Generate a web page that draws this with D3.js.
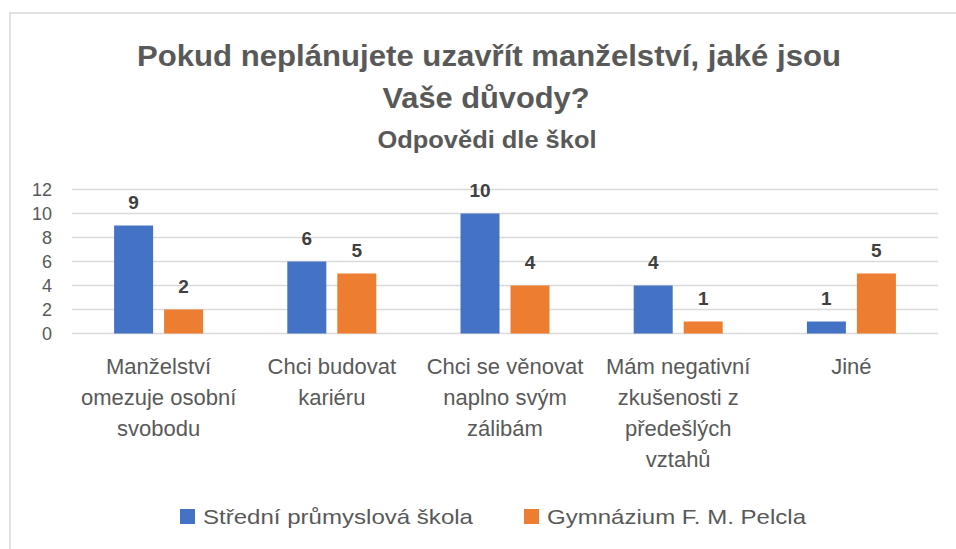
<!DOCTYPE html>
<html>
<head>
<meta charset="utf-8">
<script src="https://cdn.jsdelivr.net/npm/d3@7"></script>
<style>
  body { margin: 0; background: #fff; }
  svg { display: block; }
  text { font-family: "Liberation Sans Narrow", "Liberation Sans", sans-serif; }
</style>
</head>
<body>
<div id="chart"></div>
<script>
// Data
const categories = [
	['Manželství', 'omezuje osobní', 'svobodu'],
	['Chci budovat', 'kariéru'],
	['Chci se věnovat', 'naplno svým', 'zálibám'],
	['Mám negativní', 'zkušenosti z', 'předešlých', 'vztahů'],
	['Jiné'],
];
const seriesNames = ['Střední průmyslová škola', 'Gymnázium F. M. Pelcla'];
const spsValues = [9, 6, 10, 4, 1];
const gymValues = [2, 5, 4, 1, 5];
const yTicks = [0, 2, 4, 6, 8, 10, 12];

const colours = ['#4472C4', '#ED7D31'];
const width = 956;
const height = 549;

const svg = d3.select('#chart')
	.append('svg')
	.attr('width', width)
	.attr('height', height);

// chart border (right and bottom edges are cut off in the reference)
svg.append('rect')
	.attr('x', 10)
	.attr('y', 13)
	.attr('width', 980)
	.attr('height', 560)
	.attr('fill', 'none')
	.attr('stroke', '#d9d9d9')
	.attr('stroke-width', 1.5);

// squeeze text to a measured width
function fit(sel, w) {
	sel.attr('textLength', w).attr('lengthAdjust', 'spacingAndGlyphs');
}

// Titles
svg.append('text')
	.attr('x', 489).attr('y', 66)
	.attr('text-anchor', 'middle')
	.attr('font-size', 30).attr('font-weight', 'bold')
	.attr('fill', '#595959')
	.text('Pokud neplánujete uzavřít manželství, jaké jsou')
	.call(fit, 704);
svg.append('text')
	.attr('x', 486).attr('y', 108)
	.attr('text-anchor', 'middle')
	.attr('font-size', 30).attr('font-weight', 'bold')
	.attr('fill', '#595959')
	.text('Vaše důvody?')
	.call(fit, 207);
svg.append('text')
	.attr('x', 487).attr('y', 148)
	.attr('text-anchor', 'middle')
	.attr('font-size', 24).attr('font-weight', 'bold')
	.attr('fill', '#595959')
	.text('Odpovědi dle škol')
	.call(fit, 219);

// Scales
const plot = { left: 72, right: 938 };
const x = d3.scaleBand()
	.domain(d3.range(categories.length))
	.range([plot.left, plot.right]);
const y = d3.scaleLinear()
	.domain([0, 12])
	.range([333.5, 189.5]);

const barW = 39;
const barGap = 11;

// Gridlines
svg.append('g')
	.selectAll('line')
	.data(yTicks)
	.join('line')
	.attr('x1', plot.left)
	.attr('x2', plot.right)
	.attr('y1', (d) => y(d))
	.attr('y2', (d) => y(d))
	.attr('stroke', '#d9d9d9')
	.attr('stroke-width', 1.5);

// Y axis labels
const yAxis = svg.append('g')
	.attr('transform', `translate(${plot.left - 20},0)`)
	.call(d3.axisLeft(y).tickValues(yTicks).tickSize(0).tickPadding(0));
yAxis.select('.domain').remove();
yAxis.selectAll('text')
	.attr('font-size', 18)
	.attr('fill', '#595959')
	.attr('font-family', '"Liberation Sans Narrow", "Liberation Sans", sans-serif');

// Bars
const series = [spsValues, gymValues];
const offsets = [-(barGap / 2 + barW), barGap / 2];

series.forEach((values, s) => {
	const g = svg.append('g');
	g.selectAll('rect')
		.data(values)
		.join('rect')
		.attr('x', (d, i) => x(i) + x.bandwidth() / 2 + offsets[s])
		.attr('y', (d) => y(d))
		.attr('width', barW)
		.attr('height', (d) => y(0) - y(d))
		.attr('fill', colours[s]);

	g.selectAll('text')
		.data(values)
		.join('text')
		.attr('x', (d, i) => x(i) + x.bandwidth() / 2 + offsets[s] + barW / 2)
		.attr('y', (d) => y(d) - 17)
		.attr('text-anchor', 'middle')
		.attr('font-size', 19)
		.attr('font-weight', 'bold')
		.attr('fill', '#404040')
		.text((d) => d);
});

// Category labels
const catG = svg.append('g');
categories.forEach((lines, i) => {
	const t = catG.append('text')
		.attr('text-anchor', 'middle')
		.attr('font-size', 22)
		.attr('fill', '#595959');
	t.selectAll('tspan')
		.data(lines)
		.join('tspan')
		.attr('x', x(i) + x.bandwidth() / 2)
		.attr('y', (d, j) => 374 + j * 31)
		.text((d) => d);
});

// Legend
const legendItems = [
	{ name: seriesNames[0], colour: colours[0], x: 180, w: 270 },
	{ name: seriesNames[1], colour: colours[1], x: 524, w: 259 },
];
const legend = svg.append('g')
	.selectAll('g')
	.data(legendItems)
	.join('g');
legend.append('rect')
	.attr('x', (d) => d.x)
	.attr('y', 509)
	.attr('width', 15)
	.attr('height', 15)
	.attr('fill', (d) => d.colour);
legend.append('text')
	.attr('x', (d) => d.x + 23)
	.attr('y', 524)
	.attr('font-size', 21)
	.attr('fill', '#595959')
	.text((d) => d.name)
	.each(function (d) {
		d3.select(this).call(fit, d.w);
	});
</script>
</body>
</html>
